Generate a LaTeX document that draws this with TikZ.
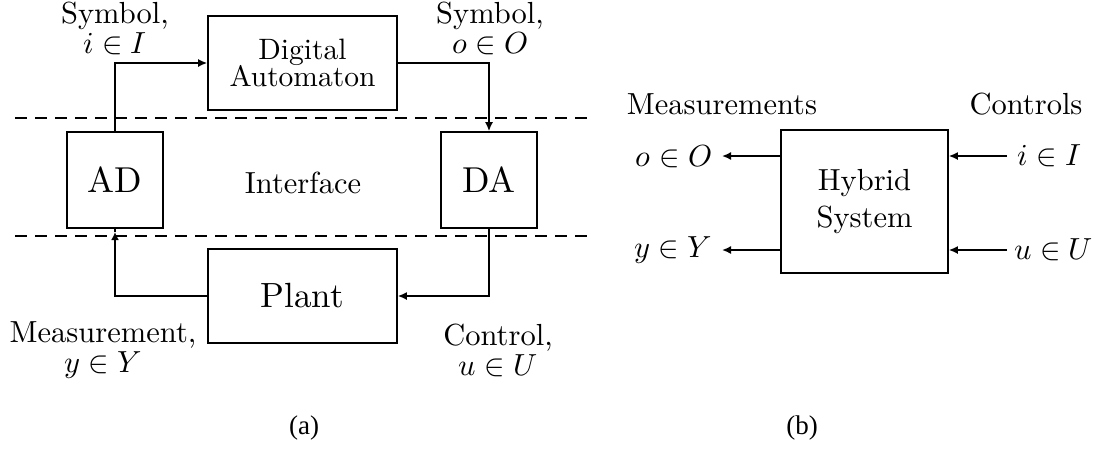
\documentclass[tikz,border=0pt]{standalone}
\usepackage{fontspec}
\usepackage{unicode-math}
\setmainfont{lmroman10-regular.otf}[ItalicFont=lmroman10-italic.otf,BoldFont=lmroman10-bold.otf]
\setmathfont{latinmodern-math.otf}
\newfontfamily\capfont{Liberation Serif}
\usetikzlibrary{arrows.meta}
\begin{document}
\begin{tikzpicture}[x=1pt,y=-1pt,
  blk/.style={draw,line width=1.6pt,inner sep=0pt,align=center},
  lbl/.style={inner sep=0pt,align=center,font=\fontsize{30.5}{30}\selectfont},
  conn/.style={line width=1.6pt},
  arr/.style={line width=1.6pt,-{Latex[length=9pt,width=8pt]}},
  sep/.style={line width=1.5pt,dash pattern=on 12pt off 8pt},
  capt/.style={inner sep=0pt,font=\capfont\fontsize{27}{27}\selectfont}]
\useasboundingbox (0,0) rectangle (1097,456);
% ---------- (a)
\node[blk,minimum width=189pt,minimum height=94pt,font=\fontsize{29.5}{26}\selectfont] (dig) at (302.5,63) {Digital\\[-1pt]Automaton};
\node[blk,minimum width=96pt,minimum height=96pt,font=\fontsize{36}{36}\selectfont] (ad) at (115,180) {AD};
\node[blk,minimum width=96pt,minimum height=96pt,font=\fontsize{36}{36}\selectfont] (da) at (489,180) {DA};
\node[lbl] (intf) at (303,183) {Interface};
\node[blk,minimum width=189pt,minimum height=94pt,font=\fontsize{35}{35}\selectfont] (plant) at (302.5,296) {Plant};
\coordinate (d1l) at (15,118);
\coordinate (d1r) at (587,118);
\coordinate (d2l) at (15,236);
\coordinate (d2r) at (587,236);
\draw[sep] (d1l) -- (d1r);
\draw[sep] (d2l) -- (d2r);
\draw[arr] (ad.north) |- (dig.west);
\draw[arr] (dig.east) -| (da.north);
\draw[arr] (da.south) |- (plant.east);
\coordinate (adin) at (115,232);
\draw[arr,-{Latex[length=8pt,width=8pt]}] (plant.west) -| (adin);
\draw[conn] (adin) -- (ad.south);
\node[lbl] (syml) at (115,28) {Symbol,\\$i\in I$};
\node[lbl] (symr) at (490,28) {Symbol,\\$o\in O$};
\node[lbl] (meas) at (103,350) {Measurement,\\$y\in Y$};
\node[lbl] (ctrl) at (498,350) {Control,\\$u\in U$};
\node[capt] (capa) at (304,428) {(a)};
% ---------- (b)
\node[blk,minimum width=167pt,minimum height=143pt,font=\fontsize{30.5}{37}\selectfont] (hyb) at (864.5,201.5) {Hybrid\\System};
\node[lbl,anchor=east] (oo) at (712,156) {$o\in O$};
\node[lbl,anchor=east] (yy) at (712,250) {$y\in Y$};
\node[lbl,anchor=west] (ii) at (1017,156) {$i\in I$};
\node[lbl,anchor=west] (uu) at (1014,250) {$u\in U$};
\node[lbl] (measb) at (722,104) {Measurements};
\node[lbl] (ctrlb) at (1026,104) {Controls};
\draw[arr] (hyb.west |- oo) -- ([xshift=10pt]oo.east);
\draw[arr] (hyb.west |- yy) -- ([xshift=10pt]yy.east);
\draw[arr] ([xshift=-10pt]ii.west) -- (hyb.east |- ii);
\draw[arr] ([xshift=-7pt]uu.west) -- (hyb.east |- uu);
\node[capt] (capb) at (802,428) {(b)};
\end{tikzpicture}
\end{document}
